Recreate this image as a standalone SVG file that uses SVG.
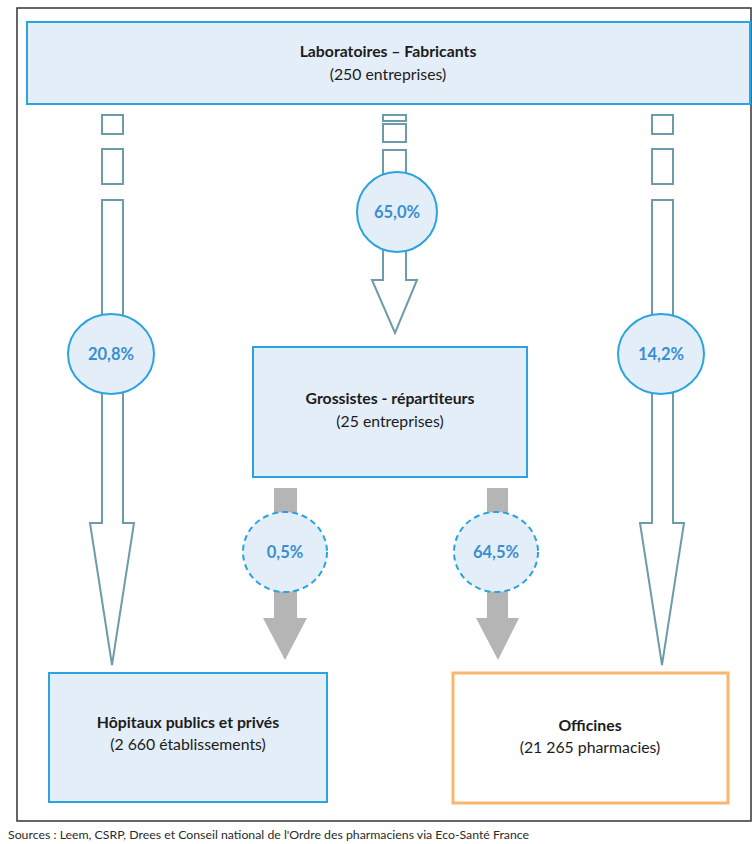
<svg xmlns="http://www.w3.org/2000/svg" width="752" height="844" viewBox="0 0 752 844">
<style>
.box{fill:#e4eef8;stroke:#2ba3e0;stroke-width:2}
.obox{fill:#ffffff;stroke:#f8b66e;stroke-width:3}
.t{font-family:Lato,"Open Sans","Liberation Sans",sans-serif;font-size:15.8px;fill:#1c1c1c;text-anchor:middle}
.b{font-weight:bold}
.arr{fill:#ffffff;stroke:#6c9ca9;stroke-width:2}
.garr{fill:#b5b5b5;stroke:none}
.circ{fill:#e4eef8;stroke:#2ba3e0;stroke-width:2}
.dcirc{fill:#e4eef8;stroke:#2ba3e0;stroke-width:2;stroke-dasharray:6 4}
.pct{font-family:Lato,"Open Sans","Liberation Sans",sans-serif;font-size:16.5px;font-weight:bold;fill:#3a8fd3;text-anchor:middle}
.src{font-family:Lato,"Open Sans","Liberation Sans",sans-serif;font-size:12.3px;fill:#2a2a2a}
</style>
<rect x="0" y="0" width="752" height="844" fill="#ffffff"/>
<rect x="17" y="8" width="734" height="813" fill="none" stroke="#333333" stroke-width="1.5"/>

<g id="connectors">
  <!-- left arrow -->
  <rect class="arr" x="102" y="115" width="21" height="19"/>
  <rect class="arr" x="102" y="149" width="21" height="35"/>
  <polygon class="arr" points="102,200 123,200 123,523 134,523 112,665 90,523 102,523"/>
  <!-- middle arrow -->
  <rect class="arr" x="383" y="115" width="23" height="6"/>
  <rect class="arr" x="383" y="124" width="23" height="18"/>
  <polygon class="arr" points="383,150 406,150 406,280 417,280 395,333 372,280 383,280"/>
  <!-- right arrow -->
  <rect class="arr" x="652" y="115" width="21" height="19"/>
  <rect class="arr" x="652" y="149" width="21" height="35"/>
  <polygon class="arr" points="652,200 673,200 673,523 684,523 662,665 640,523 652,523"/>
  <!-- gray arrows -->
  <polygon class="garr" points="274,488 297,488 297,618 307,618 285,660 263,618 274,618"/>
  <polygon class="garr" points="487,488 508,488 508,618 519,618 498,660 476,618 487,618"/>
</g>

<g id="pct-20-8">
  <ellipse class="circ" cx="111" cy="354" rx="43" ry="40"/>
  <text class="pct" x="111" y="360">20,8%</text>
</g>
<g id="pct-65-0">
  <ellipse class="circ" cx="397" cy="212" rx="40" ry="40"/>
  <text class="pct" x="397" y="218">65,0%</text>
</g>
<g id="pct-14-2">
  <ellipse class="circ" cx="661" cy="354" rx="43" ry="40"/>
  <text class="pct" x="661" y="360">14,2%</text>
</g>
<g id="pct-0-5">
  <ellipse class="dcirc" cx="285" cy="552" rx="42" ry="40"/>
  <text class="pct" x="285" y="558">0,5%</text>
</g>
<g id="pct-64-5">
  <ellipse class="dcirc" cx="496" cy="552" rx="42" ry="40"/>
  <text class="pct" x="496" y="558">64,5%</text>
</g>

<g id="laboratoires">
  <rect class="box" x="27" y="22" width="723" height="82"/>
  <text class="t b" x="388" y="57">Laboratoires – Fabricants</text>
  <text class="t" x="388" y="80">(250 entreprises)</text>
</g>
<g id="grossistes">
  <rect class="box" x="253" y="347" width="274" height="130"/>
  <text class="t b" x="390" y="404">Grossistes - répartiteurs</text>
  <text class="t" x="390" y="427">(25 entreprises)</text>
</g>
<g id="hopitaux">
  <rect class="box" x="49" y="673" width="278" height="129"/>
  <text class="t b" x="188" y="728">Hôpitaux publics et privés</text>
  <text class="t" x="188" y="750">(2 660 établissements)</text>
</g>
<g id="officines">
  <rect class="obox" x="453" y="673" width="275" height="130"/>
  <text class="t b" x="590" y="731">Officines</text>
  <text class="t" x="590" y="753">(21 265 pharmacies)</text>
</g>

<text class="src" x="8" y="839">Sources : Leem, CSRP, Drees et Conseil national de l'Ordre des pharmaciens via Eco-Santé France</text>
</svg>
